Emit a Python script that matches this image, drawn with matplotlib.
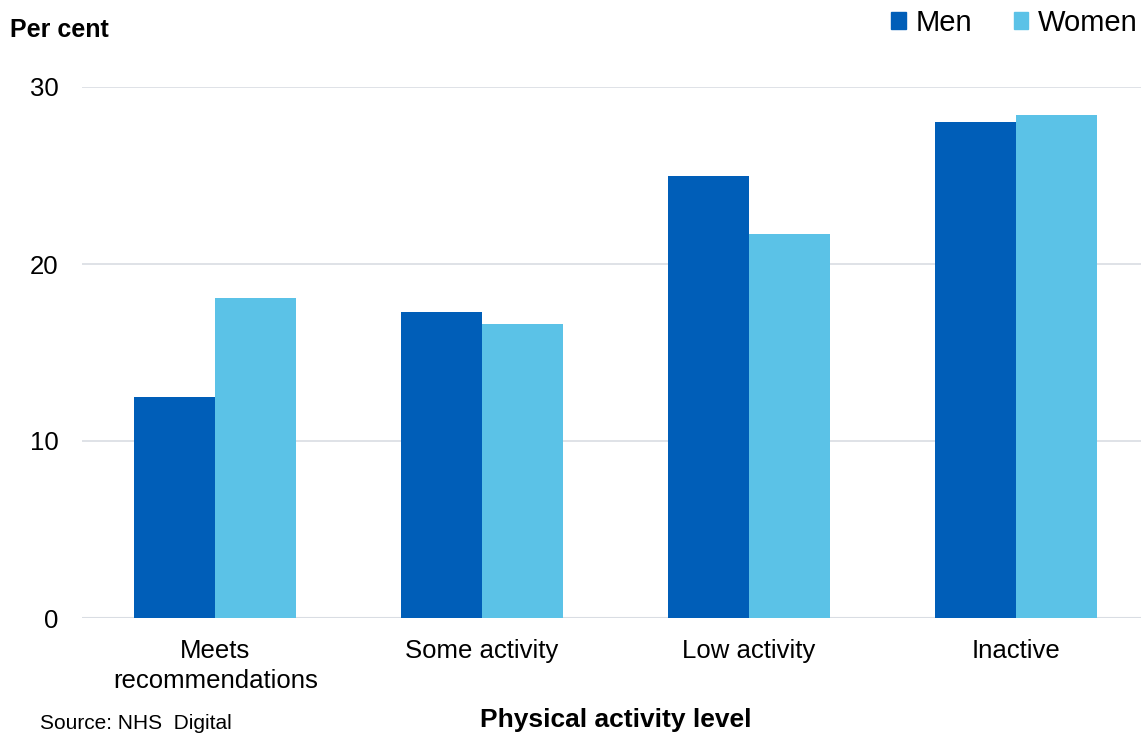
import matplotlib
matplotlib.use("Agg")
import matplotlib.pyplot as plt
from matplotlib.patches import Patch
import numpy as np

plt.rcParams['font.family'] = ['Liberation Sans', 'DejaVu Sans']

categories = ["Meets\nrecommendations", "Some activity", "Low activity", "Inactive"]
men = [12.5, 17.3, 25.0, 28.0]
women = [18.1, 16.6, 21.7, 28.4]
yticks = [0, 10, 20, 30]

men_color = "#005EB8"
women_color = "#5BC2E7"

fig = plt.figure(figsize=(11.41, 7.34), dpi=100)
ax = fig.add_axes([82 / 1141, 1 - 618 / 734, 1067 / 1141, 531 / 734])

x = np.arange(len(categories))
w = 0.304
ax.bar(x - w / 2, men, width=w, color=men_color, zorder=3)
ax.bar(x + w / 2, women, width=w, color=women_color, zorder=3)

ax.set_xlim(-0.5, len(categories) - 0.5)
ax.set_ylim(0, 30)
ax.set_yticks(yticks)
ax.set_yticklabels([str(v) for v in yticks], fontsize=18.5)
ax.set_xticks(x)
ax.set_xticklabels(categories, fontsize=18.5, linespacing=1.3)
ax.tick_params(axis='both', length=0)
ax.tick_params(axis='y', pad=17)
ax.tick_params(axis='x', pad=15)
ax.yaxis.grid(True, color="#d9dde3", linewidth=1.2, zorder=0)
for s in ax.spines.values():
    s.set_visible(False)
ax.axhline(0, color="#d9dde3", linewidth=1.5, zorder=2)

fig.text(10 / 1141, 1 - 30 / 734, "Per cent", fontsize=18, fontweight='bold',
         ha='left', va='center')
fig.text(616 / 1141, 1 - 720 / 734, "Physical activity level", fontsize=19,
         fontweight='bold', ha='center', va='center')
fig.text(40 / 1141, 1 - 733 / 734, "Source: NHS  Digital", fontsize=15,
         ha='left', va='bottom')

handles = [Patch(color=men_color, label="Men"), Patch(color=women_color, label="Women")]
fig.legend(handles=handles, loc='center right', bbox_to_anchor=(1.0, 1 - 23 / 734),
           ncol=2, frameon=False, fontsize=21, handlelength=0.5, handleheight=0.5,
           handletextpad=0.35, columnspacing=1.4, borderaxespad=0.0, borderpad=0.1)

fig.savefig("out.png", dpi=100)
